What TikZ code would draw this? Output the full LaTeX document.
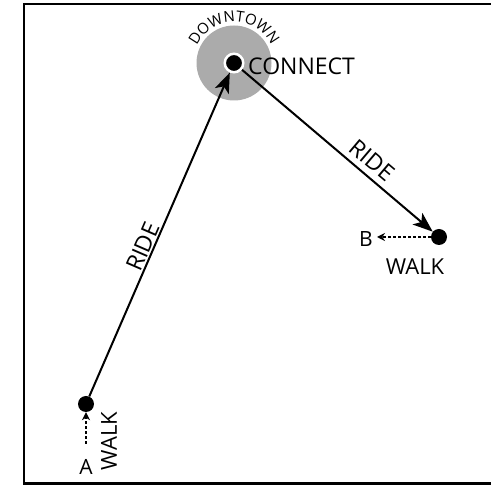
\documentclass[tikz,border=0pt]{standalone}
\usepackage{fontspec}
\setmainfont{Open Sans}
\usepackage{tikz}
\usetikzlibrary{arrows.meta,decorations.text,calc}
\definecolor{dtGrey}{HTML}{ABABAB}
\newcommand{\fsz}[1]{\fontsize{#1}{#1}\selectfont}

\begin{document}
\begin{tikzpicture}[
  x=1pt, y=1pt,
  zone/.style={circle, fill=dtGrey, inner sep=0pt, minimum size=75pt},
  hubdot/.style={circle, fill=black, draw=white, line width=2.5pt, inner sep=0pt, minimum size=18.5pt},
  stop/.style={circle, fill=black, inner sep=0pt, minimum size=16pt},
  word/.style={font=\fsz{21}, inner sep=1pt},
  ride/.style={-{Stealth[length=20pt, width=15pt, inset=5pt]}, line width=2pt},
  walk/.style={-{Stealth[length=8pt, width=8pt]}, line width=1.5pt, dash pattern=on 3pt off 2pt},
]
\useasboundingbox (0,0) rectangle (491,485);
\clip (0,0) rectangle (491,485);

% ── Frame (right side runs off the page) ────────────────────────────────────
\draw[line width=2.5pt] (500,481) -- (24,481) -- (24,1.5) -- (500,1.5);

% ── Downtown hub ─────────────────────────────────────────────────────────────
\node[zone] (dtown) at (234,422) {};
\node[hubdot] (hub) at (234,422) {};
\node[word, anchor=west, font=\fsz{23}] (conn) at (247,419) {CONNECT};
\path[decorate, decoration={text along path, text align=center,
      text={|\fsz{15}|DOWNTOWN}}]
  ($(hub)+(162:41)$) arc[start angle=162, end angle=18, radius=41];

% ── Stops ────────────────────────────────────────────────────────────────────
\node[stop] (stopA) at (86,81) {};
\node[stop] (stopB) at (439,248) {};
\coordinate (fromA) at (86,41);
\coordinate (toB) at (377,248);

\node[word] (labA) at (86,18) {A};
\node[word] (labB) at (366,246) {B};
\node[word, font=\fsz{22}] (walkB) at (415,218) {WALK};
\node[word, font=\fsz{22}, rotate=90] (walkA) at (109,44) {WALK};

% ── Connectors ───────────────────────────────────────────────────────────────
\draw[ride] (stopA) -- node[word, font=\fsz{23}, sloped, above, pos=0.45] {RIDE} (hub);
\draw[ride] (hub) -- node[word, font=\fsz{23}, sloped, above=5pt, pos=0.63] {RIDE} (stopB);
\draw[walk] (fromA) -- (stopA);
\draw[walk] (stopB) -- (toB);

\end{tikzpicture}
\end{document}
